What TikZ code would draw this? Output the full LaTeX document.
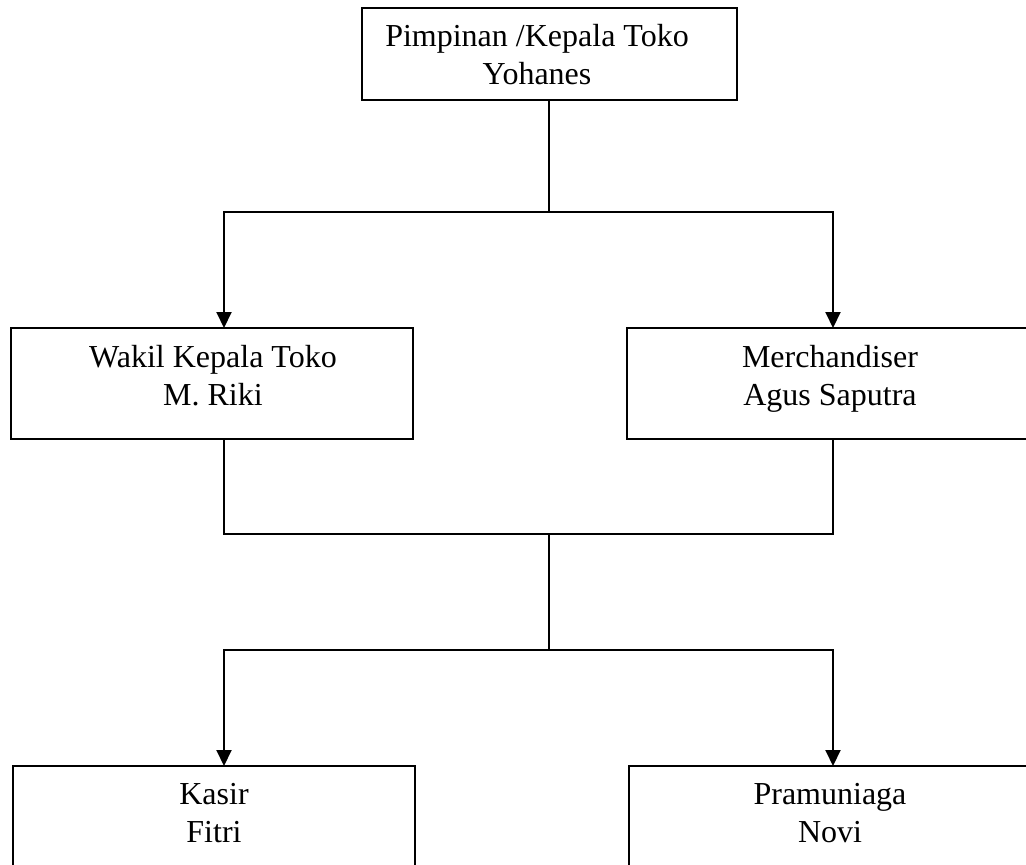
\documentclass[tikz,border=0pt]{standalone}
\usepackage{fontspec}
\setmainfont{Liberation Serif}
\usetikzlibrary{arrows.meta}
\begin{document}
\begin{tikzpicture}[x=1pt,y=-1pt,
  box/.style={draw, line width=2pt, inner sep=0pt, outer sep=0pt, minimum height=111pt},
  lbl/.style={inner sep=0pt, outer sep=0pt, align=center, anchor=north, font=\fontsize{32}{38}\selectfont},
  conn/.style={line width=2pt},
  arr/.style={conn, -{Triangle[width=15pt,length=16pt]}}]
\useasboundingbox (0,0) rectangle (1026,865);
\clip (0,0) rectangle (1026,865);
% boxes
\node[box, minimum width=375pt, minimum height=92pt] (top) at (549.5,54) {};
\node[box, minimum width=402pt] (wakil) at (212,383.5) {};
\node[box, minimum width=406pt] (merch) at (830,383.5) {};
\node[box, minimum width=402pt] (kasir) at (214,821.5) {};
\node[box, minimum width=402pt] (pram) at (830,821.5) {};
% texts
\node[lbl] (tTop) at (537,24) {Pimpinan /Kepala Toko\\Yohanes};
\node[lbl] (tWakil) at (213,345.5) {Wakil Kepala Toko\\M. Riki};
\node[lbl] (tMerch) at (830,345.5) {Merchandiser\\Agus Saputra};
\node[lbl] (tKasir) at (214,783.5) {Kasir\\Fitri};
\node[lbl] (tPram) at (830,783.5) {Pramuniaga\\Novi};
% junctions
\coordinate (j1) at (549,212);
\coordinate (L1) at (224,212);
\coordinate (R1) at (833,212);
\coordinate (L2) at (224,534);
\coordinate (R2) at (833,534);
\coordinate (j2) at (549,534);
\coordinate (j3) at (549,650);
\coordinate (L3) at (224,650);
\coordinate (R3) at (833,650);
% connectors
\draw[conn] (j1 |- top.south) -- (j1);
\draw[arr] (j1) -- (L1) -- (L1 |- wakil.north);
\draw[arr] (j1) -- (R1) -- (R1 |- merch.north);
\draw[conn] (L2 |- wakil.south) -- (L2) -- (R2) -- (R2 |- merch.south);
\draw[conn] (j2) -- (j3);
\draw[arr] (j3) -- (L3) -- (L3 |- kasir.north);
\draw[arr] (j3) -- (R3) -- (R3 |- pram.north);
\end{tikzpicture}
\end{document}
